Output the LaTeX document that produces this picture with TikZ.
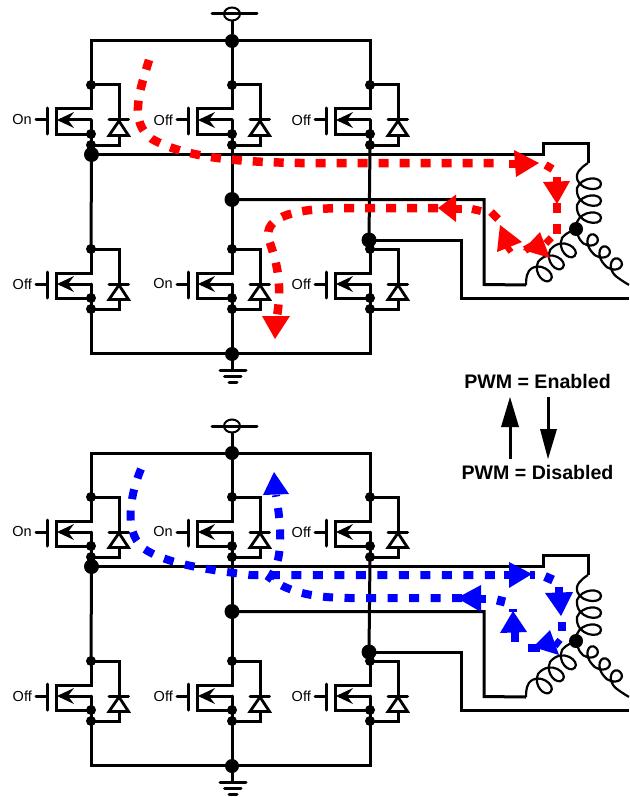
\documentclass[tikz,border=0pt]{standalone}
\usepackage{fontspec}
\usetikzlibrary{shapes.geometric}
\setmainfont{Liberation Sans}
\definecolor{pathred}{RGB}{255,0,0}
\definecolor{pathblue}{RGB}{0,0,255}
\tikzset{
  wire/.style={line width=3pt,line cap=round,line join=miter},
  dot/.style={circle,fill=black,inner sep=0pt,minimum size=10pt},
  bigdot/.style={circle,fill=black,inner sep=0pt,minimum size=15pt},
  fetlabel/.style={font=\fontsize{14.5}{14.5}\selectfont,anchor=east,inner sep=0pt},
  pwmlabel/.style={font=\fontsize{19.6}{20}\selectfont\bfseries,inner sep=0pt},
  flow/.style={line width=8.5pt,dash pattern=on 10pt off 11pt},
  flowb/.style={line width=8pt,dash pattern=on 10pt off 11.5pt},
  stub/.style={line width=8pt},
  coilwire/.style={line width=2.2pt},
}
% #1 name, #2 x, #3 y (top dot), #4 label
\newcommand{\fet}[4]{%
  \node[dot] (#1t) at (#2,#3) {};
  \node[dot] (#1s) at (#2,#3+49) {};
  \node[dot] (#1b) at (#2,#3+60) {};
  \draw[wire] (#1t.center) -- (#2,#3+24) -- (#2-35,#3+24) -- (#2-35,#3+49) -- (#1s.center) -- (#1b.center);
  \draw[wire] (#2,#3+35) -- (#2,#3+49);
  \draw[wire] (#2,#3+35) -- (#2-30,#3+35);
  \draw[fill=black,draw=none] (#2-34,#3+35) -- (#2-17,#3+27) -- (#2-23,#3+35) -- (#2-17,#3+43) -- cycle;
  \draw[wire] (#2-43.5,#3+23) -- (#2-43.5,#3+49);
  \draw[wire] (#2-55,#3+35) -- (#2-43.5,#3+35);
  \node[fetlabel] (#1l) at (#2-59,#3+35) {#4};
  \draw[wire] (#1t.center) -- (#2+28,#3) -- (#2+28,#3+60) -- (#1b.center);
  \draw[line width=2.8pt,fill=white,line join=miter] (#2+28,#3+36) -- (#2+18,#3+50.5) -- (#2+37.5,#3+50.5) -- cycle;
  \draw[wire] (#2+18,#3+35) -- (#2+37.5,#3+35);
}
% #1 centre node, #2 rotation, #3 yscale, #4 offset along axis, #5 offset across axis, #6 end point
\newcommand{\leafcoil}[6]{%
  \begin{scope}[shift={(#1)},rotate=#2,yscale=#3]
  \draw[coilwire] (0,0) .. controls (#4+2,#5) and (#4+4,#5+1) .. (#4+7,#5+1)
    .. controls (#4+19,#5+6) and (#4+19,#5+25) .. (#4+11,#5+25)
    .. controls (#4+2,#5+25) and (#4+5,#5-1) .. (#4+24,#5+1)
    .. controls (#4+36,#5+6) and (#4+36,#5+25) .. (#4+28,#5+25)
    .. controls (#4+19,#5+25) and (#4+22,#5-1) .. (#4+41,#5+1)
    .. controls (#4+53,#5+6) and (#4+53,#5+25) .. (#4+45,#5+25)
    .. controls (#4+36,#5+25) and (#4+39,#5-1) .. (#4+54,#5+1)
    .. controls (#4+60,#5+2) and (#6) .. (#6);
  \end{scope}
}
\newcommand{\bridge}[7]{%
  % supply
  \node[dot,minimum size=14pt] (#1top) at (232,41) {};
  \node[draw,ellipse,line width=2pt,minimum width=16pt,minimum height=13pt,inner sep=0pt] (#1sup) at (232,14) {};
  \coordinate (#1supl) at (212,14);
  \coordinate (#1supr) at (257,14);
  \draw[wire] (#1supl) -- (#1supr);
  \draw[wire] (#1sup.south) -- (#1top.center);
  \fet{#1a}{91}{85}{#2}
  \fet{#1b}{232}{85}{#3}
  \fet{#1c}{370}{85}{#4}
  \fet{#1d}{91}{249}{#5}
  \fet{#1e}{232}{249}{#6}
  \fet{#1f}{370}{249}{#7}
  \node[bigdot] (#1A) at (91.5,154.5) {};
  \node[bigdot] (#1B) at (232,199.5) {};
  \node[bigdot] (#1C) at (369,240) {};
  \node[dot,minimum size=14pt] (#1bot) at (232,354) {};
  \draw[wire] (#1at.center) -- (91,41) -- (370,41) -- (#1ct.center);
  \draw[wire] (#1top.center) -- (#1bt.center);
  \draw[wire] (#1ab.center) -- (#1A.center) -- (#1dt.center);
  \draw[wire] (#1bb.center) -- (#1B.center) -- (#1et.center);
  \draw[wire] (#1cb.center) -- (#1C.center) -- (#1ft.center);
  \draw[wire] (#1db.center) -- (91,353) -- (370,353) -- (#1fb.center);
  \draw[wire] (#1eb.center) -- (#1bot.center) -- (232,370);
  \draw[wire] (220,370.5) -- (246,370.5);
  \draw[wire] (224.5,376.5) -- (241,376.5);
  \draw[wire] (229,382.5) -- (237,382.5);
  % motor
  \node[dot,minimum size=14pt] (#1N) at (576,229) {};
  \coordinate (#1ca) at (588,163);
  \coordinate (#1cp) at (526,285);
  \coordinate (#1cc) at (629,285);
  \draw[wire,line cap=butt] (#1A.center) -- (543,154.5) -- (543,143.5) -- (588,143.5) -- (#1ca);
  \draw[wire,line cap=butt] (#1B.center) -- (484,199.5) -- (484,284.5) -- (#1cp);
  \draw[wire,line cap=butt] (#1C.center) -- (461,240) -- (461,298) -- (629,298);
  \leafcoil{#1N}{90}{1}{0}{0}{66,12}
  \leafcoil{#1N}{225}{-0.9}{9}{-5}{75,5}
  \leafcoil{#1N}{-45}{-0.6}{8}{-9.5}{77,-3.5}
}
\begin{document}
\begin{tikzpicture}[x=1pt,y=-1pt]
\useasboundingbox (0,0) rectangle (629,797);
\fill[white] (0,0) rectangle (629,797);
\bridge{u}{On}{Off}{Off}{Off}{On}{Off}
\begin{scope}[yshift=-412pt]
  \bridge{l}{On}{On}{Off}{Off}{Off}{Off}
\end{scope}
% red current
\coordinate (r1) at (149,60);
\coordinate (r2) at (498,163);
\coordinate (r7) at (456,208);
\coordinate (r8) at (277,316);
\draw[pathred,flow] (r1) .. controls (140,90) and (128,122) .. (152,139) .. controls (185,158) and (240,162) .. (300,163) -- (r2);
\draw[pathred,stub] (509,163.5) -- (516,163.5);
\draw[pathred,stub] (545.5,165) -- (552.5,169);
\draw[pathred,stub] (556.5,177) -- (556.5,184);
\draw[pathred,stub] (557,203) -- (557,213);
\draw[pathred,stub] (556.5,223.5) -- (556.5,234);
\fill[pathred] (514,150) -- (539,163) -- (516,177) -- cycle;
\fill[pathred] (543,182) -- (570,181) -- (557,204) -- cycle;
\draw[pathred,stub] (525,250) -- (534,245);
\draw[pathred,stub] (546,238) -- (551,243);
\fill[pathred] (540,232) -- (550,258) -- (523,250) -- cycle;
\fill[pathred] (500,225) -- (497,252) -- (522,242) -- cycle;
\draw[pathred,line width=6pt] (506,245) -- (511,252);
\draw[pathred,stub] (491,212) -- (498,219);
\draw[pathred,stub] (472,209) -- (481,211);
\draw[pathred,stub] (456,208.5) -- (462,208.5);
\fill[pathred] (456,194.5) -- (456,222) -- (438,208) -- cycle;
\draw[pathred,flow] (438,208) -- (340,208) .. controls (300,209) and (262,215) .. (269,240) .. controls (275,258) and (283,280) .. (r8);
\fill[pathred] (262,316) -- (290,316) -- (275,339) -- cycle;
% blue current
\coordinate (b1) at (141,469);
\coordinate (b2) at (504,575);
\draw[pathblue,flowb] (b1) .. controls (132,490) and (122,530) .. (143,548) .. controls (165,564) and (210,570) .. (250,575) -- (b2);
\draw[pathblue,stub] (504,575) -- (511,575);
\fill[pathblue] (509,562) -- (532,574) -- (509,588) -- cycle;
\draw[pathblue,stub] (530,574.5) -- (535,574.5);
\draw[pathblue,line width=9pt] (545,576.5) -- (553,580);
\draw[pathblue,stub] (558.5,587) -- (558.5,594);
\fill[pathblue] (545,593) -- (573,592) -- (561,616) -- cycle;
\draw[pathblue,line width=8pt] (562,622) -- (562,631);
\draw[pathblue,stub] (555,641) -- (560,645);
\fill[pathblue] (550,630) -- (559,655) -- (533,647) -- cycle;
\draw[pathblue,stub] (528,648) -- (540,648);
\fill[pathblue] (513,611) -- (527,632) -- (500,633) -- cycle;
\draw[pathblue,stub] (514.5,632) -- (514.5,642);
\draw[pathblue,stub] (512.5,609) -- (512.5,612);
\draw[pathblue,line width=9pt] (497,600) -- (505,602);
\fill[pathblue] (457,598) -- (481,585) -- (481,612) -- cycle;
\draw[pathblue,stub] (480,598.5) -- (486,598.5);
\draw[pathblue,flowb] (462,598) -- (350,598) .. controls (320,598) and (290,594) .. (270,578)
  .. controls (283,560) and (282,530) .. (276,495);
\fill[pathblue] (274,472) -- (289,494) -- (263,495) -- cycle;
% PWM legend
\node[pwmlabel] (en) at (537.5,381) {PWM = Enabled};
\node[pwmlabel] (dis) at (537.5,472) {PWM = Disabled};
\coordinate (u1) at (510,459);
\coordinate (u2) at (510,397);
\coordinate (d1) at (548,397);
\coordinate (d2) at (548,459);
\draw[line width=3pt] (u1) -- (510,425);
\fill (u2) -- (519,427) -- (501,427) -- cycle;
\draw[line width=3pt] (d1) -- (548,431);
\fill (d2) -- (557,429) -- (540,429) -- cycle;
\end{tikzpicture}
\end{document}
